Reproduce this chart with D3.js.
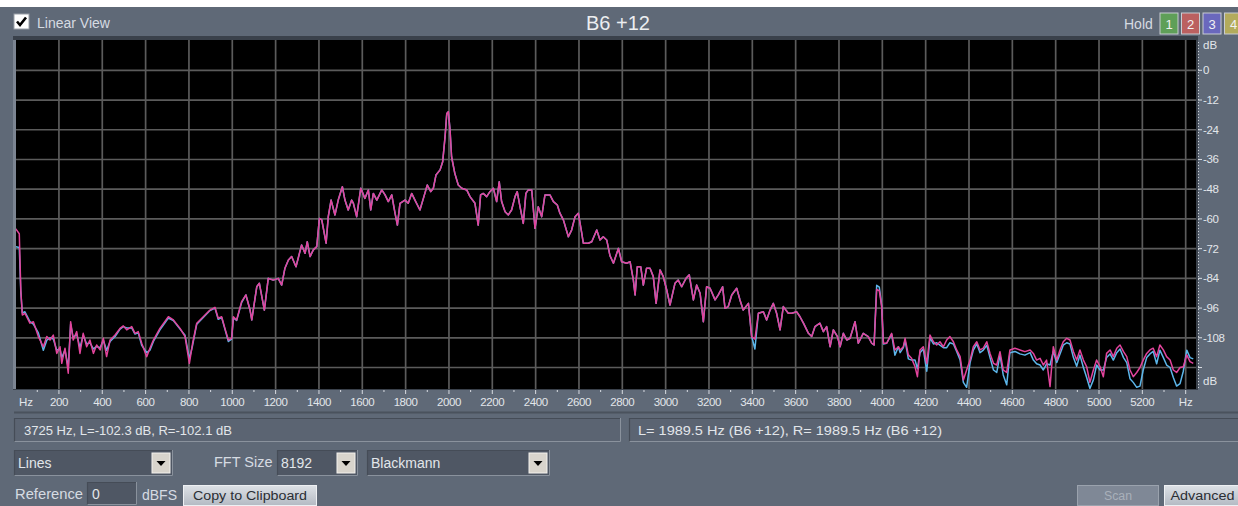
<!DOCTYPE html>
<html><head><meta charset="utf-8">
<script src="https://cdn.jsdelivr.net/npm/d3@7"></script>
<style>
html,body{margin:0;padding:0;background:#fff;overflow:hidden}
svg{display:block;font-family:"Liberation Sans",Arial,sans-serif}
</style></head><body>
<svg id="app" width="1238" height="506"></svg>
<script>
// Spectrum readings: frequency (Hz) and level (dB) for the two channels
const freqHz = [
  0,17,24,31,43,66,82,105,128,144,
  159,174,190,205,213,228,243,254,266,282,
  297,312,328,343,359,374,390,405,420,436,
  459,482,497,513,536,551,566,582,605,620,
  636,666,705,728,759,782,802,817,836,866,
  897,920,935,951,966,982,997,1005,1020,1043,
  1063,1082,1090,1113,1125,1148,1166,1189,1212,1228,
  1243,1259,1274,1294,1320,1336,1346,1359,1374,1390,
  1402,1413,1433,1443,1456,1474,1489,1508,1520,1535,
  1551,1559,1574,1593,1612,1628,1639,1651,1667,1690,
  1705,1720,1736,1751,1762,1774,1797,1812,1828,1843,
  1866,1882,1900,1916,1928,1940,1959,1971,1982,1990,
  1997,2005,2012,2027,2043,2059,2082,2097,2120,2135,
  2146,2158,2174,2189,2205,2220,2232,2243,2259,2274,
  2289,2305,2315,2328,2343,2355,2366,2382,2397,2412,
  2428,2443,2466,2482,2500,2512,2528,2551,2566,2582,
  2597,2613,2620,2643,2659,2682,2697,2712,2728,2743,
  2759,2782,2797,2820,2836,2851,2859,2869,2885,2897,
  2912,2928,2943,2956,2974,2989,3005,3020,3043,3058,
  3074,3094,3109,3128,3143,3159,3174,3189,3205,3228,
  3243,3263,3274,3289,3305,3328,3343,3358,3382,3397,
  3412,3428,3451,3466,3482,3497,3512,3528,3543,3566,
  3582,3605,3620,3636,3659,3674,3689,3712,3728,3743,
  3759,3774,3793,3805,3820,3836,3851,3874,3889,3912,
  3935,3951,3962,3974,3986,3997,4005,4020,4043,4058,
  4074,4082,4097,4105,4120,4135,4151,4162,4174,4189,
  4205,4220,4236,4251,4266,4282,4297,4312,4328,4343,
  4359,4374,4389,4405,4420,4436,4451,4466,4482,4497,
  4513,4528,4543,4558,4574,4589,4612,4635,4658,4682,
  4697,4712,4728,4743,4758,4774,4789,4805,4820,4835,
  4851,4866,4882,4897,4912,4928,4943,4958,4974,4989,
  5005,5020,5035,5051,5066,5082,5097,5113,5128,5143,
  5158,5174,5189,5204,5220,5235,5250,5266,5281,5297,
  5312,5328,5343,5358,5374,5389,5405,5420,5435
];
const rightDb = [
  -64,-66,-88.7,-98.8,-98.1,-102.1,-101.5,-107.5,-111.6,-107.5,
  -108.9,-106.9,-114.3,-111.6,-118.3,-112.2,-122.3,-101.5,-108.9,-105.5,
  -114.3,-106.2,-111.6,-108.9,-114.3,-110.9,-112.9,-108.2,-115.6,-108.9,
  -106.9,-104.2,-103.2,-104.8,-103.5,-106.2,-105.5,-110.2,-115.6,-112.2,
  -108.9,-104.2,-99.5,-100.8,-104.2,-107.5,-118.3,-110.2,-102.1,-99.5,
  -96.8,-95.7,-100.1,-99.5,-104.2,-108.9,-108.2,-99.5,-100.8,-93.4,
  -90.7,-96.8,-100.8,-87.4,-86.0,-96.8,-84.0,-84.7,-84.0,-86.7,
  -79.9,-76.6,-75.2,-79.3,-70.5,-73.9,-69.2,-75.2,-72.5,-71.2,
  -59.8,-60.4,-69.8,-59.1,-52.4,-58.4,-52.4,-47.0,-52.4,-56.4,
  -52.4,-53.7,-59.1,-47.6,-51.7,-48.3,-56.4,-49.7,-52.4,-48.3,
  -50.3,-53.0,-50.3,-57.7,-62.5,-53.7,-52.4,-53.7,-49.7,-52.4,
  -56.4,-51.7,-46.3,-49.0,-47.6,-42.3,-40.2,-36.9,-26.8,-17.4,
  -16.7,-24.1,-34.9,-41.6,-46.3,-47.6,-48.3,-51.0,-53.7,-62.5,
  -50.3,-49.7,-51.0,-49.0,-47.6,-53.0,-45.0,-53.0,-57.1,-58.4,
  -56.4,-51.0,-49.0,-55.1,-61.8,-49.7,-48.3,-48.3,-63.8,-55.1,
  -59.1,-50.3,-50.3,-53.0,-54.4,-57.7,-60.4,-67.2,-64.5,-59.1,
  -57.7,-65.8,-69.8,-69.8,-69.2,-64.5,-68.5,-67.2,-68.5,-74.8,
  -77.9,-71.9,-77.3,-77.9,-77.3,-84.7,-90.7,-79.3,-79.3,-86.7,
  -79.9,-79.9,-83.3,-94.1,-80.6,-83.3,-88.7,-94.8,-86.0,-84.7,
  -87.4,-84.0,-82.6,-92.7,-86.7,-90.0,-101.5,-87.4,-88.0,-92.7,
  -90.7,-87.4,-96.1,-95.4,-90.7,-88.0,-92.7,-96.8,-94.1,-107.5,
  -108.5,-98.1,-97.5,-100.8,-96.8,-94.1,-98.1,-104.8,-95.4,-98.1,
  -98.1,-97.5,-99.5,-102.1,-106.2,-107.5,-103.5,-102.1,-105.5,-103.5,
  -111.6,-104.8,-107.5,-111.6,-106.2,-108.9,-108.2,-101.5,-110.2,-106.2,
  -107.5,-110.2,-110.9,-88.5,-89.0,-95.4,-110.2,-110.2,-106.2,-112.9,
  -111.6,-112.9,-111.6,-108.2,-114.9,-116.3,-119.7,-123.7,-112.9,-111.6,
  -118.3,-106.9,-109.6,-110.9,-109.6,-111.6,-108.9,-107.5,-109.6,-112.9,
  -115.6,-125.0,-121.0,-117.0,-111.6,-109.6,-112.9,-112.2,-109.6,-114.3,
  -118.3,-119.0,-113.6,-121.0,-122.0,-112.9,-112.2,-112.9,-113.6,-112.9,
  -114.3,-117.0,-116.3,-119.0,-117.0,-127.7,-111.6,-117.0,-112.9,-109.6,
  -108.2,-108.9,-113.6,-117.0,-112.9,-117.0,-119.7,-126.0,-121.0,-117.0,
  -119.7,-123.7,-114.3,-112.9,-115.6,-112.2,-110.9,-113.6,-115.6,-121.0,
  -123.7,-122.0,-120.0,-117.0,-114.3,-112.9,-112.2,-115.6,-110.9,-112.9,
  -115.6,-117.0,-121.0,-122.0,-120.0,-119.7,-114.9,-117.6,-118.3
];
const leftDb = [
  -71.2,-71.5,-89.5,-98.0,-97.5,-101.5,-102.5,-106.0,-113.0,-109.0,
  -108.0,-108.5,-113.0,-112.5,-116.0,-113.0,-120.0,-102.5,-108.0,-106.5,
  -112.0,-107.0,-110.5,-110.0,-112.5,-111.5,-112.0,-109.0,-113.0,-109.5,
  -107.5,-104.5,-103.5,-104.0,-104.0,-106.5,-106.0,-111.0,-114.0,-113.0,
  -109.5,-104.8,-100.0,-101.0,-104.5,-107.0,-116.5,-111.0,-102.5,-99.8,
  -97.0,-96.0,-100.5,-99.8,-104.5,-109.5,-108.5,-100.0,-101.0,-93.8,
  -90.7,-96.8,-100.8,-87.4,-86.0,-96.8,-84.0,-84.7,-84.0,-86.7,
  -79.9,-76.6,-75.2,-79.3,-70.5,-73.9,-69.2,-75.2,-72.5,-71.2,
  -59.8,-60.4,-69.8,-59.1,-52.4,-58.4,-52.4,-47.0,-52.4,-56.4,
  -52.4,-53.7,-59.1,-47.6,-51.7,-48.3,-56.4,-49.7,-52.4,-48.3,
  -50.3,-53.0,-50.3,-57.7,-62.5,-53.7,-52.4,-53.7,-49.7,-52.4,
  -56.4,-51.7,-46.3,-49.0,-47.6,-42.3,-40.2,-36.9,-26.8,-17.4,
  -16.7,-24.1,-34.9,-41.6,-46.3,-47.6,-48.3,-51.0,-53.7,-62.5,
  -50.3,-49.7,-51.0,-49.0,-47.6,-53.0,-45.0,-53.0,-57.1,-58.4,
  -56.4,-51.0,-49.0,-55.1,-61.8,-49.7,-48.3,-48.3,-63.8,-55.1,
  -59.1,-50.3,-50.3,-53.0,-54.4,-57.7,-60.4,-67.2,-64.5,-59.1,
  -57.7,-65.8,-69.8,-69.8,-69.2,-64.5,-68.5,-67.2,-68.5,-74.8,
  -77.9,-71.9,-77.3,-77.9,-77.3,-84.7,-90.7,-79.3,-79.3,-86.7,
  -79.9,-79.9,-83.3,-94.1,-80.6,-83.3,-88.7,-94.8,-86.0,-84.7,
  -87.4,-84.0,-82.6,-92.7,-86.7,-90.0,-101.5,-87.4,-88.0,-92.7,
  -90.7,-87.4,-96.1,-95.4,-90.7,-88.0,-92.7,-96.8,-94.1,-107.5,
  -112.5,-98.1,-97.5,-100.8,-96.8,-94.1,-98.1,-104.8,-95.4,-98.1,
  -98.1,-97.5,-99.5,-102.1,-106.2,-107.5,-103.5,-102.1,-105.5,-103.5,
  -111.6,-104.8,-107.5,-111.6,-106.2,-108.9,-108.2,-101.5,-110.2,-106.2,
  -107.5,-110.2,-110.9,-86.8,-87.5,-95.0,-110.5,-110.2,-106.5,-115.0,
  -111.6,-114.0,-112.0,-109.0,-116.5,-117.0,-117.0,-120.5,-114.0,-112.5,
  -121.5,-108.0,-110.5,-110.0,-111.0,-112.0,-112.0,-110.0,-110.5,-113.5,
  -117.0,-126.0,-128.0,-118.0,-113.0,-110.5,-114.0,-113.0,-111.0,-116.0,
  -121.0,-122.0,-115.0,-123.0,-127.0,-114.0,-113.5,-114.5,-115.0,-114.0,
  -117.0,-118.5,-119.0,-121.0,-118.5,-119.0,-113.5,-118.0,-114.5,-111.0,
  -110.0,-110.5,-116.0,-119.5,-115.0,-120.0,-124.0,-128.5,-125.0,-119.0,
  -121.0,-121.0,-116.0,-114.5,-117.0,-114.0,-112.5,-116.0,-118.0,-124.5,
  -126.0,-128.0,-127.5,-121.0,-116.0,-114.5,-113.5,-118.5,-113.0,-116.0,
  -119.0,-120.0,-124.0,-127.5,-126.5,-121.5,-113.0,-116.0,-116.5
];

// Axis ticks and grid
const freqTicks = [200,400,600,800,1000,1200,1400,1600,1800,2000,2200,2400,2600,
  2800,3000,3200,3400,3600,3800,4000,4200,4400,4600,4800,5000,5200];
const freqGrid = freqTicks.concat([5400]);
const dbTicks = [0,-12,-24,-36,-48,-60,-72,-84,-96,-108];
const dbGrid = dbTicks.concat([-120]);

// Texts of the window
const titleText = "B6 +12";
const cursorText = "3725 Hz, L=-102.3 dB, R=-102.1 dB";
const peakText = "L= 1989.5 Hz (B6 +12), R= 1989.5 Hz (B6 +12)";
const holdSlots = [
  {label:"1", fill:"#5f9f58"},
  {label:"2", fill:"#bb6060"},
  {label:"3", fill:"#6a68bd"},
  {label:"4", fill:"#b3ab5c"}
];

const W = 1238, H = 506;
const svg = d3.select("#app");
const panel = "#5f6977";
const ink = "#e2e6ea";
const soft = "#d6dbe2";

// window background (white strip above the window edge)
svg.append("rect").attr("x",0).attr("y",7).attr("width",W).attr("height",H-7).attr("fill",panel);

// ---------- header ----------
const cb = svg.append("g").attr("transform","translate(14,14)");
cb.append("rect").attr("width",15).attr("height",15).attr("fill","#fff")
  .attr("stroke","#9aa0a8").attr("stroke-width",1);
cb.append("path").attr("d","M3,7.5 L6,11 L12,3.5").attr("fill","none")
  .attr("stroke","#000").attr("stroke-width",2.6);
svg.append("text").attr("x",37).attr("y",28).attr("fill",soft)
  .attr("font-size",14).text("Linear View");
svg.append("text").attr("x",618).attr("y",30).attr("text-anchor","middle")
  .attr("fill","#eceef0").attr("font-size",20).text(titleText);
svg.append("text").attr("x",1124).attr("y",29).attr("fill",soft)
  .attr("font-size",14).text("Hold");
holdSlots.forEach((h,i)=>{
  const gx = 1160 + i*21.5;
  svg.append("rect").attr("x",gx).attr("y",13).attr("width",18).attr("height",21)
    .attr("fill",h.fill).attr("stroke","#c8ccd2").attr("stroke-width",1);
  svg.append("text").attr("x",gx+9).attr("y",29).attr("text-anchor","middle")
    .attr("fill","#f2f2f2").attr("font-size",13).text(h.label);
});

// ---------- plot ----------
const plot = {left:16, right:1196, top:40, bottom:389};
const x = d3.scaleLinear().domain([0,5443]).range([15.6,1195]);
const y = d3.scaleLinear().domain([12,-129]).range([40.6,389.8]);

svg.append("rect").attr("x",13).attr("y",36).attr("width",plot.right-13+2)
  .attr("height",plot.bottom-36+1).attr("fill","#3a414b");
svg.append("rect").attr("x",13).attr("y",40).attr("width",3)
  .attr("height",plot.bottom-40).attr("fill","#7c8592");
svg.append("rect").attr("x",plot.left).attr("y",plot.top)
  .attr("width",plot.right-plot.left).attr("height",plot.bottom-plot.top).attr("fill","#000");

const grid = svg.append("g").attr("stroke","#5b5b5b").attr("stroke-width",1.7);
grid.selectAll("line.v").data(freqGrid).join("line").attr("class","v")
  .attr("x1",d=>x(d)).attr("x2",d=>x(d)).attr("y1",plot.top).attr("y2",plot.bottom);
grid.selectAll("line.h").data(dbGrid).join("line").attr("class","h")
  .attr("x1",plot.left).attr("x2",plot.right).attr("y1",d=>y(d)).attr("y2",d=>y(d));

svg.append("clipPath").attr("id","plotclip").append("rect")
  .attr("x",plot.left).attr("y",plot.top).attr("width",plot.right-plot.left)
  .attr("height",plot.bottom-plot.top);

const n = Math.min(freqHz.length, leftDb.length, rightDb.length);
const idx = d3.range(n);
const lineL = d3.line().x(i=>x(freqHz[i])).y(i=>y(leftDb[i]));
const lineR = d3.line().x(i=>x(freqHz[i])).y(i=>y(rightDb[i]));
const traces = svg.append("g").attr("clip-path","url(#plotclip)").attr("fill","none")
  .attr("stroke-width",1.5).attr("stroke-linejoin","round");
traces.append("path").attr("d",lineL(idx)).attr("stroke","#5cb6ea");
traces.append("path").attr("d",lineR(idx)).attr("stroke","#e2449c");

// ---------- frequency axis ----------
const fx = svg.append("g").attr("fill",ink).attr("font-size",11.5);
const minorTicks = freqGrid.map(f=>f-100);
svg.append("g").attr("stroke","#d8dce2").attr("stroke-width",1)
  .selectAll("line").data(freqGrid).join("line")
  .attr("x1",d=>x(d)).attr("x2",d=>x(d)).attr("y1",plot.bottom+1).attr("y2",plot.bottom+5);
svg.append("g").attr("stroke","#d8dce2").attr("stroke-width",1)
  .selectAll("line").data(minorTicks).join("line")
  .attr("x1",d=>x(d)).attr("x2",d=>x(d)).attr("y1",plot.bottom+1).attr("y2",plot.bottom+3);
fx.selectAll("text").data(freqTicks).join("text")
  .attr("x",d=>x(d)).attr("y",406).attr("text-anchor","middle")
  .attr("letter-spacing",-0.4).text(d=>d);
fx.append("text").attr("x",19).attr("y",406).text("Hz");
fx.append("text").attr("x",x(5400)).attr("y",406).attr("text-anchor","middle").text("Hz");

// ---------- level axis ----------
svg.append("line").attr("x1",1198.5).attr("x2",1198.5).attr("y1",42).attr("y2",388)
  .attr("stroke","#c9ced4").attr("stroke-width",1).attr("stroke-dasharray","1,2");
svg.append("g").attr("stroke","#d8dce2").attr("stroke-width",1)
  .selectAll("line").data(dbGrid).join("line")
  .attr("x1",1198).attr("x2",1202).attr("y1",d=>y(d)).attr("y2",d=>y(d));
const fy = svg.append("g").attr("fill",ink).attr("font-size",11.5);
fy.selectAll("text").data(dbTicks).join("text")
  .attr("x",1203).attr("y",d=>y(d)+4).attr("letter-spacing",-0.4).text(d=>d);
fy.append("text").attr("x",1203).attr("y",49).text("dB");
fy.append("text").attr("x",1203).attr("y",385).text("dB");

// ---------- status bars ----------
svg.append("line").attr("x1",14).attr("x2",W).attr("y1",412.5).attr("y2",412.5)
  .attr("stroke","#4a525d").attr("stroke-width",2);
function sunken(x0,y0,w,h,fill){
  svg.append("rect").attr("x",x0).attr("y",y0).attr("width",w).attr("height",h).attr("fill",fill);
  svg.append("path").attr("d",`M${x0+0.5},${y0+h} V${y0+0.5} H${x0+w}`)
    .attr("fill","none").attr("stroke","#454c57").attr("stroke-width",1.2);
  svg.append("path").attr("d",`M${x0+0.5},${y0+h-0.5} H${x0+w-0.5} V${y0}`)
    .attr("fill","none").attr("stroke","#8a929d").attr("stroke-width",1);
}
sunken(14,418,607,24,"#5b6472");
sunken(629,418,W-629+2,24,"#5b6472");
svg.append("text").attr("x",24).attr("y",435).attr("fill",ink).attr("font-size",13)
  .attr("textLength",208).attr("lengthAdjust","spacingAndGlyphs").text(cursorText);
svg.append("text").attr("x",638).attr("y",435).attr("fill",ink).attr("font-size",13.5)
  .attr("textLength",304).attr("lengthAdjust","spacingAndGlyphs").text(peakText);

// ---------- controls ----------
function combo(x0,y0,w,label){
  sunken(x0,y0,w,26,"#4f5764");
  svg.append("text").attr("x",x0+4).attr("y",y0+18).attr("fill",ink).attr("font-size",14).text(label);
  const bx = x0+w-21, by = y0+3;
  svg.append("rect").attr("x",bx).attr("y",by).attr("width",18).attr("height",20)
    .attr("fill","#d8d4cc").attr("stroke","#f4f2ee").attr("stroke-width",1);
  svg.append("path").attr("d",`M${bx+4.5},${by+8} h9 l-4.5,5 z`).attr("fill","#000");
}
combo(14,450,159,"Lines");
svg.append("text").attr("x",214).attr("y",467).attr("fill",soft).attr("font-size",14.5).text("FFT Size");
combo(277,450,81,"8192");
combo(367,450,183,"Blackmann");

svg.append("text").attr("x",15).attr("y",499).attr("fill",soft).attr("font-size",14.5)
  .attr("textLength",68).attr("lengthAdjust","spacingAndGlyphs").text("Reference");
sunken(87,482,50,23,"#4f5764");
svg.append("text").attr("x",92).attr("y",499).attr("fill",ink).attr("font-size",14).text("0");
svg.append("text").attr("x",142).attr("y",500).attr("fill",soft).attr("font-size",14).text("dBFS");

const grad = svg.append("defs").append("linearGradient").attr("id","btn").attr("x1",0).attr("x2",0).attr("y1",0).attr("y2",1);
grad.append("stop").attr("offset","0").attr("stop-color","#dde1e6");
grad.append("stop").attr("offset","1").attr("stop-color","#b4bac3");
function button(x0,y0,w,h,label,enabled,tl){
  svg.append("rect").attr("x",x0).attr("y",y0).attr("width",w).attr("height",h)
    .attr("fill",enabled?"url(#btn)":"#7f8896").attr("stroke",enabled?"#eef0f3":"#9aa2ad").attr("stroke-width",1);
  const t = svg.append("text").attr("x",x0+w/2).attr("y",y0+h/2+4).attr("text-anchor","middle")
    .attr("fill",enabled?"#2a2e34":"#a9b0ba").attr("font-size",12.5).text(label);
  if (tl) t.attr("textLength",tl).attr("lengthAdjust","spacingAndGlyphs");
}
button(183.5,485.5,133,20,"Copy to Clipboard",true,114);
button(1077.5,485.5,81,20,"Scan",false,28);
button(1164.5,485.5,76,20,"Advanced",true,64);
</script>
</body></html>
